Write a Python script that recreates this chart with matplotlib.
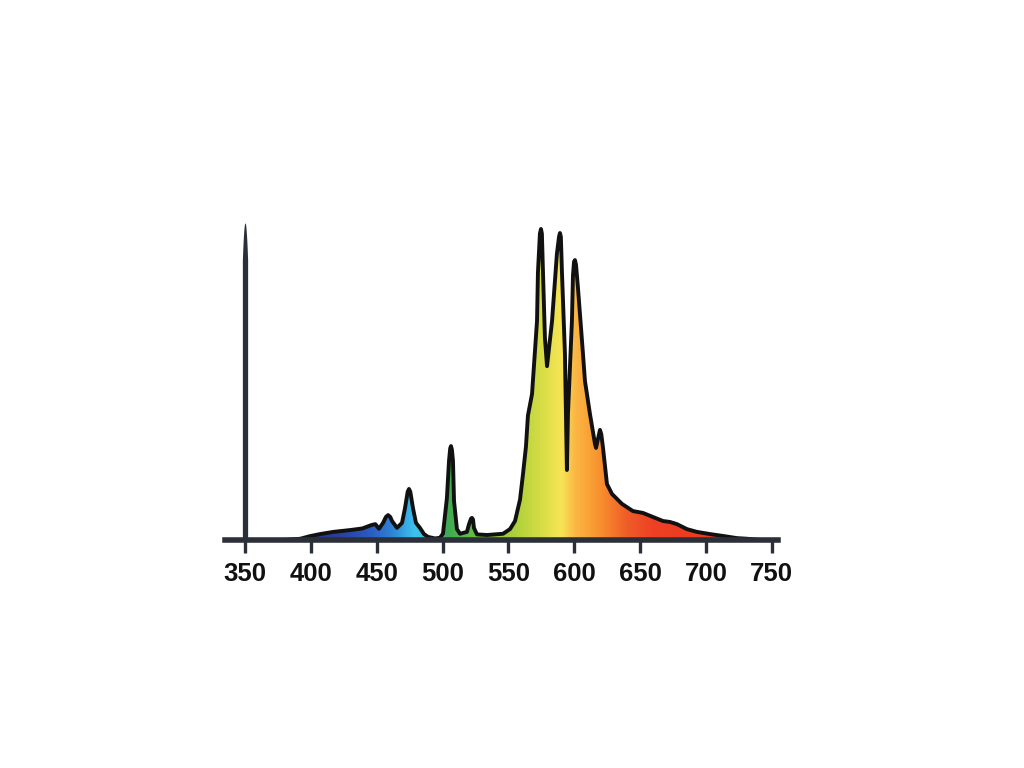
import numpy as np
import matplotlib.pyplot as plt
from matplotlib.colors import LinearSegmentedColormap

# wavelength (nm) and relative intensity
wavelength = [
    380, 392, 399, 407, 417, 430, 439, 446, 449, 451.7, 454.8, 457.0, 458.6,
    460.3, 461.6, 465.4, 469.2, 471.5, 473.5, 474.5, 475.5, 477.5, 479.8,
    482.8, 485.9, 488.9, 494.2, 498.0, 500.3, 503.3, 504.9, 505.8, 506.4,
    507.1, 507.9, 508.7, 510.9, 513.2, 518.5, 520.0, 521.5, 522.3, 523.1,
    523.8, 526.1, 533.7, 545.9, 551.2, 555.0, 558.8, 561.0, 563.3, 564.8,
    567.9, 571.7, 572.4, 573.9, 574.7, 575.4, 576.2, 577.7, 579.3, 583.1,
    586.8, 588.4, 589.1, 589.8, 590.6, 592.9, 594.4, 595.2, 598.2, 599.0,
    599.8, 600.5, 601.3, 602.8, 606.6, 608.1, 611.9, 615.7, 616.5, 618.5,
    619.5, 620.5, 621.8, 624.8, 628.6, 636.2, 644.5, 652.1, 659.7, 667.3,
    672.6, 677.9, 685.5, 693.1, 703.0, 712.8, 723.5, 731.1, 741.0,
]
intensity = [
    0.0, 0.004, 0.012, 0.019, 0.026, 0.032, 0.037, 0.048, 0.051, 0.036,
    0.055, 0.074, 0.080, 0.074, 0.061, 0.039, 0.055, 0.103, 0.155, 0.164,
    0.155, 0.103, 0.055, 0.039, 0.019, 0.010, 0.005, 0.007, 0.02, 0.135,
    0.255, 0.295, 0.302, 0.290, 0.254, 0.125, 0.035, 0.020, 0.026, 0.050,
    0.068, 0.071, 0.066, 0.039, 0.018, 0.016, 0.020, 0.035, 0.061, 0.13,
    0.21, 0.30, 0.40, 0.469, 0.704, 0.860, 0.985, 1.0, 0.985, 0.865, 0.650,
    0.559, 0.704, 0.920, 0.975, 0.987, 0.975, 0.865, 0.598, 0.225, 0.405,
    0.704, 0.850, 0.895, 0.900, 0.885, 0.810, 0.598, 0.511, 0.405, 0.309,
    0.296, 0.335, 0.354, 0.340, 0.296, 0.180, 0.148, 0.116, 0.093, 0.087,
    0.074, 0.061, 0.058, 0.051, 0.035, 0.026, 0.019, 0.013, 0.006, 0.004,
    0.0,
]
ticks = [350, 400, 450, 500, 550, 600, 650, 700, 750]

# spectral colours for the fill
stops = [
    (380, '#27307f'), (420, '#2a3e9e'), (445, '#2b5cc2'), (462, '#2f86d8'),
    (478, '#3cc2ee'), (492, '#4bb8b0'), (503, '#3faa52'), (515, '#54b848'),
    (540, '#8ec63c'), (560, '#b8d43c'), (580, '#e2e04a'), (590, '#f8e456'),
    (600, '#fbb844'), (618, '#f8942f'), (640, '#f05c28'), (660, '#ee4024'),
    (745, '#e83420'),
]
lo, hi = stops[0][0], stops[-1][0]
cmap = LinearSegmentedColormap.from_list(
    'spec', [((w - lo) / (hi - lo), c) for w, c in stops])

dark = '#2b2f38'
fig = plt.figure(figsize=(10.24, 7.68), dpi=100)
ax = fig.add_axes([0.2197, 0.2969, 0.54, 0.4252])

# gradient fill clipped to the area under the curve
poly = ax.fill_between(wavelength, 0, intensity, color='none', lw=0)
grad = np.linspace(0, 1, 512).reshape(1, -1)
img = ax.imshow(grad, cmap=cmap, aspect='auto', extent=[lo, hi, 0, 1.05],
                origin='lower', zorder=1)
img.set_clip_path(poly.get_paths()[0], transform=ax.transData)
ax.set_xlim(334.8, 754.6)
ax.set_ylim(0, 1.05)

ax.plot(wavelength, intensity, color='#111111', lw=2.8,
        solid_joinstyle='round', solid_capstyle='round', zorder=3)

# tapered vertical axis at 350 nm
yy = np.linspace(0, 1.02, 300)
half = 2.0 * np.clip((1.02 - yy) / 0.12, 0, 1) ** 0.5
ax.fill_betweenx(yy, 350 - half, 350 + half, color=dark, lw=0, zorder=4)

for s in ['left', 'top', 'right']:
    ax.spines[s].set_visible(False)
ax.spines['bottom'].set_linewidth(4)
ax.spines['bottom'].set_color(dark)
ax.spines['bottom'].set_zorder(5)
ax.set_yticks([])
ax.set_xticks(ticks)
ax.set_xticklabels([str(t) for t in ticks], fontsize=18.5, fontweight='bold',
                   family='Liberation Sans', color='#111111')
ax.tick_params(axis='x', direction='out', length=9.5, width=2.4,
               color=dark, pad=6)

fig.savefig('out.png', dpi=100)
